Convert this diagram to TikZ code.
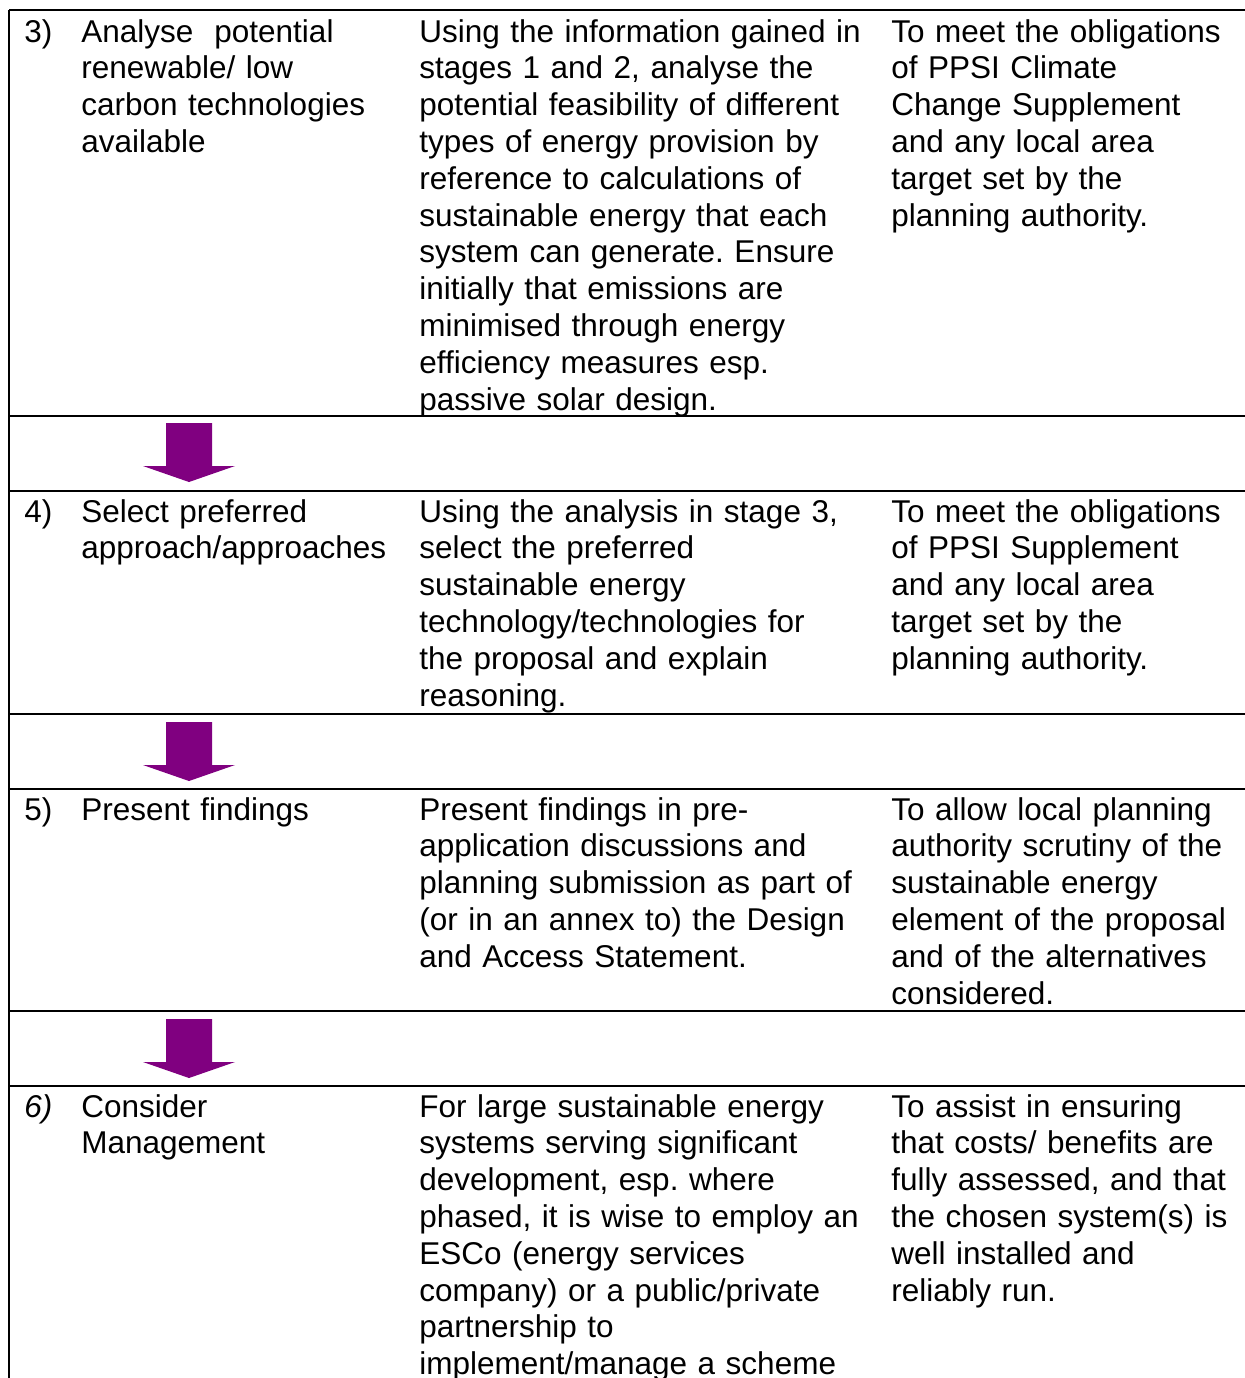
\documentclass[tikz,border=0pt]{standalone}
\usepackage{fontspec}
\setmainfont{Liberation Sans}
\usepackage{xcolor}
\usepackage{tikz}
\usetikzlibrary{positioning}
\definecolor{stagepurple}{HTML}{800080}
\newcommand{\cellfont}{\fontsize{15.75}{18.4}\selectfont\frenchspacing}
\tikzstyle{cell} = [anchor=base west,inner sep=0pt,align=left,font=\cellfont]
\tikzstyle{rule} = [line width=1.2pt]
\tikzstyle{stagearrow} = [fill=stagepurple]

\begin{document}
\begin{tikzpicture}[x=0.5pt,y=-0.5pt]
							\useasboundingbox (0,0) rectangle (1245,1378);
							
							%Nodes
							\node [cell] (n3) at (24,42) {3)};
							\node [cell,text width=165pt] (t3) at (81,42) {Analyse\ \ potential\\renewable/ low\\carbon technologies\\available};
							\node [cell,text width=230pt] (d3) at (419,42) {Using the information gained in\\stages 1 and 2, analyse the\\potential feasibility of different\\types of energy provision by\\reference to calculations of\\sustainable energy that each\\system can generate. Ensure\\initially that emissions are\\minimised through energy\\efficiency measures esp.\\passive solar design.};
							\node [cell,text width=175pt] (a3) at (891,42) {To meet the obligations\\of PPSI Climate\\Change Supplement\\and any local area\\target set by the\\planning authority.};
							
							\node [cell] (n4) at (24,522) {4)};
							\node [cell,text width=165pt] (t4) at (81,522) {Select preferred\\approach/approaches};
							\node [cell,text width=230pt] (d4) at (419,522) {Using the analysis in stage 3,\\select the preferred\\sustainable energy\\technology/technologies for\\the proposal and explain\\reasoning.};
							\node [cell,text width=175pt] (a4) at (891,522) {To meet the obligations\\of PPSI Supplement\\and any local area\\target set by the\\planning authority.};
							
							\node [cell] (n5) at (24,820) {5)};
							\node [cell,text width=165pt] (t5) at (81,820) {Present findings};
							\node [cell,text width=230pt] (d5) at (419,820) {Present findings in pre-\\application discussions and\\planning submission as part of\\(or in an annex to) the Design\\and Access Statement.};
							\node [cell,text width=175pt] (a5) at (891,820) {To allow local planning\\authority scrutiny of the\\sustainable energy\\element of the proposal\\and of the alternatives\\considered.};
							
							\node [cell] (n6) at (24,1117) {\textit{6)}};
							\node [cell,text width=165pt] (t6) at (81,1117) {Consider\\Management};
							\node [cell,text width=230pt] (d6) at (419,1117) {For large sustainable energy\\systems serving significant\\development, esp. where\\phased, it is wise to employ an\\ESCo (energy services\\company) or a public/private\\partnership to\\implement/manage a scheme};
							\node [cell,text width=175pt] (a6) at (891,1117) {To assist in ensuring\\that costs/ benefits are\\fully assessed, and that\\the chosen system(s) is\\well installed and\\reliably run.};
							
							%Lines
							\draw[rule] (9,10) -- (9,1378);
							\foreach \y in {10,416,491,714,789,1011,1086}
								\draw[rule] (9,\y) -- (1245,\y);
							
							%Arrows
							\foreach \t in {423,722,1019}
								\fill[stagearrow] (166,\t) -- (212,\t) -- (212,\t+43) -- (235,\t+43) -- (189,\t+59) -- (143,\t+43) -- (166,\t+43) -- cycle;
							
	\end{tikzpicture}
\end{document}
